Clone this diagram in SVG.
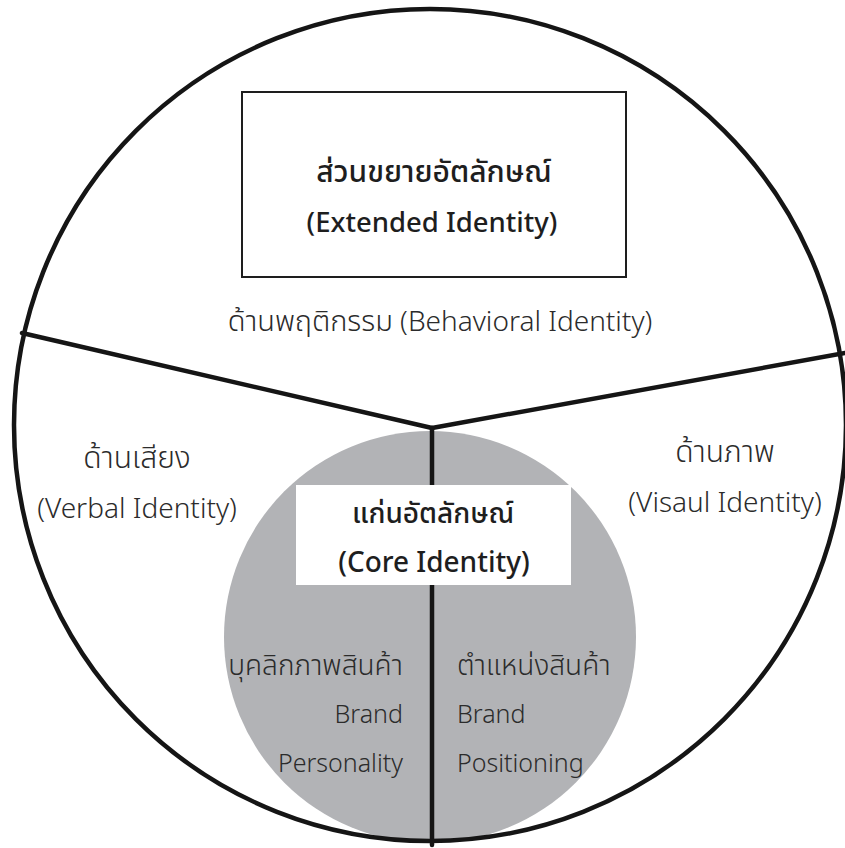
<svg xmlns="http://www.w3.org/2000/svg" width="845" height="848" viewBox="0 0 845 848">
<defs>
<style>
text{font-family:"Noto Sans Thai","Noto Sans",sans-serif;font-size:25px;font-weight:300;fill:#2b2b2b}
.b{font-weight:500;fill:#1e1e1e}
.m{text-anchor:middle}
.e{text-anchor:end}
.o{font-size:28px}
.th{font-size:28px}
.ln{stroke:#151515;stroke-width:4.5;fill:none;stroke-linecap:round;stroke-linejoin:round}
</style>
<clipPath id="outer"><circle cx="430" cy="425" r="416"/></clipPath>
</defs>
<rect width="845" height="848" fill="#fff"/>
<g id="core-area" clip-path="url(#outer)">
<circle cx="430" cy="637" r="206" fill="#b2b3b6"/>
</g>
<g id="connectors">
<line class="ln" x1="22" y1="333" x2="432" y2="428"/>
<line class="ln" x1="432" y1="428" x2="845" y2="353"/>
<line class="ln" x1="432" y1="428" x2="432" y2="845"/>
</g>
<g id="outer-circle">
<circle class="ln" cx="430" cy="425" r="416"/>
</g>
<g id="extended">
<rect x="242" y="92" width="384" height="185" fill="#fff" stroke="#1e1e1e" stroke-width="2"/>
<text class="b m" x="434" y="182" style="font-size:30px">ส่วนขยายอัตลักษณ์</text>
<text class="b m" x="432" y="232" style="font-size:27.5px">(Extended Identity)</text>
</g>
<g id="behavioral">
<text class="m o" x="440" y="331"><tspan style="font-size:29px">ด้านพฤติกรรม</tspan> (Behavioral Identity)</text>
</g>
<g id="verbal">
<text class="m o" x="137" y="468" style="font-size:30px">ด้านเสียง</text>
<text class="m o" x="137" y="518">(Verbal Identity)</text>
</g>
<g id="visual">
<text class="m o" x="725" y="462" style="font-size:30px">ด้านภาพ</text>
<text class="m o" x="725" y="512">(Visaul Identity)</text>
</g>
<g id="core">
<rect x="296" y="485" width="275" height="100" fill="#fff"/>
<text class="b m" x="433" y="523" style="font-size:28px">แก่นอัตลักษณ์</text>
<text class="b m" x="434" y="572" style="font-size:28px">(Core Identity)</text>
</g>
<g id="personality">
<text class="e th" x="403" y="675">บุคลิกภาพสินค้า</text>
<text class="e" x="403" y="723">Brand</text>
<text class="e" x="403" y="772">Personality</text>
</g>
<g id="positioning">
<text class="th" x="457" y="675">ตำแหน่งสินค้า</text>
<text x="457" y="723">Brand</text>
<text x="457" y="772">Positioning</text>
</g>
</svg>
